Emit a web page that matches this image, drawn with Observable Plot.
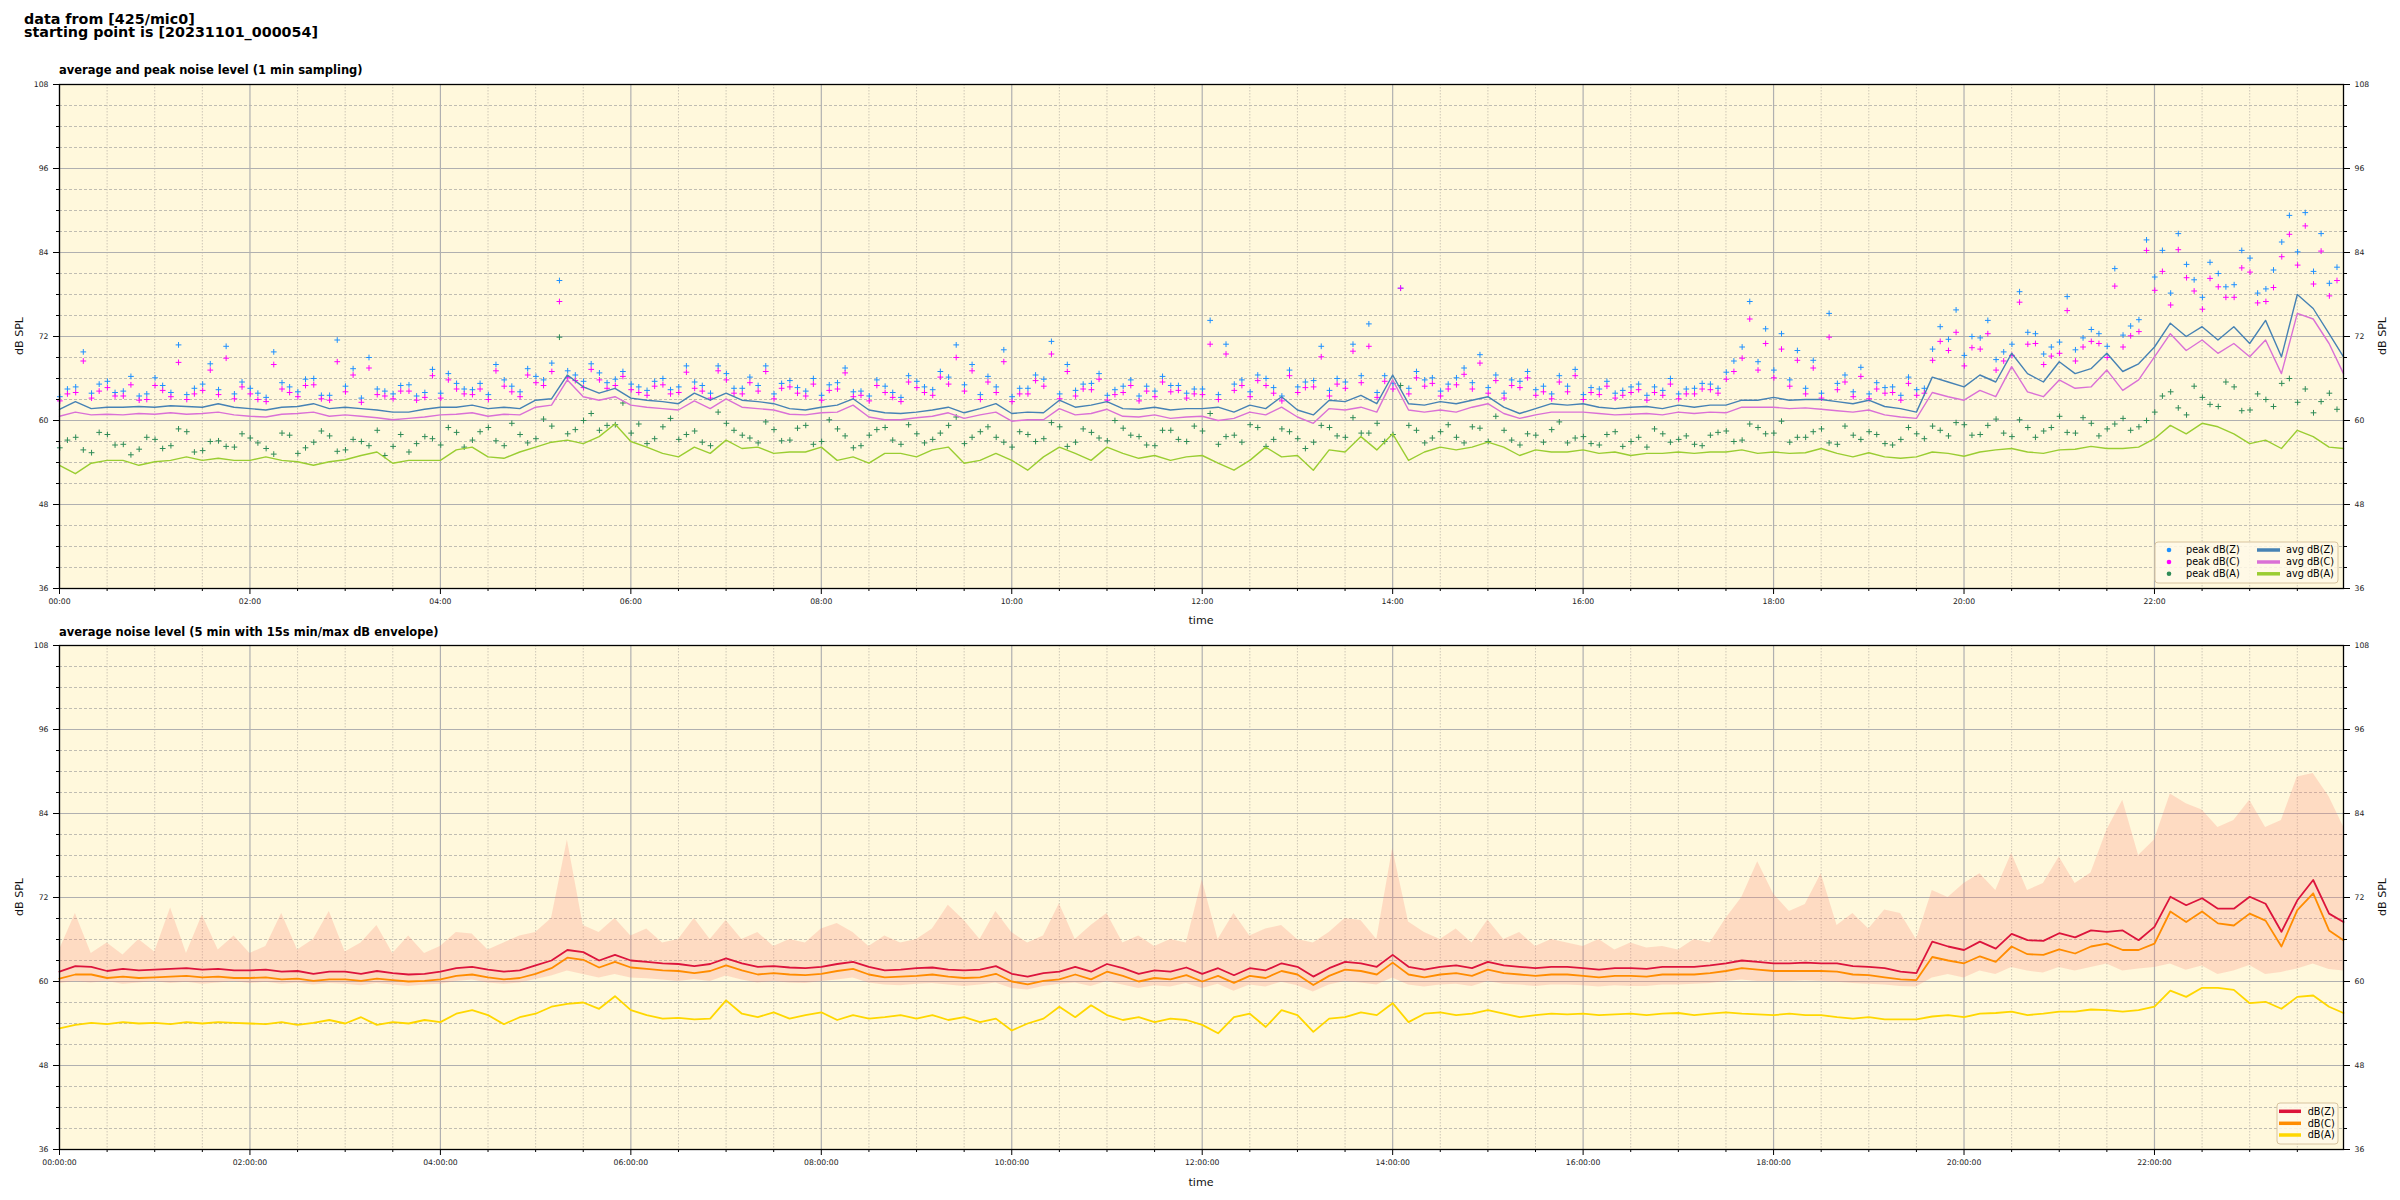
<!DOCTYPE html>
<html><head><meta charset="utf-8">
<script src="https://cdn.jsdelivr.net/npm/d3@7"></script>
<script src="https://cdn.jsdelivr.net/npm/@observablehq/plot@0.6"></script>
<style>
html,body{margin:0;padding:0;background:#fff;}
#root{position:relative;width:2400px;height:1200px;overflow:hidden;font-family:"DejaVu Sans";}
</style></head><body><div id="root"></div>
<script>
// ---------------- DATA (10-minute reading interval) ----------------
const titleLines = ["data from [425/mic0]", "starting point is [20231101_000054]"];
const topTitle = "average and peak noise level (1 min sampling)";
const bottomTitle = "average noise level (5 min with 15s min/max dB envelope)";

const xMajor = [0,2,4,6,8,10,12,14,16,18,20,22];
const xLabelsTop = ["00:00","02:00","04:00","06:00","08:00","10:00","12:00","14:00","16:00","18:00","20:00","22:00"];
const xLabelsBottom = ["00:00:00","02:00:00","04:00:00","06:00:00","08:00:00","10:00:00","12:00:00","14:00:00","16:00:00","18:00:00","20:00:00","22:00:00"];
const xMinor = [0.5,1,1.5,2.5,3,3.5,4.5,5,5.5,6.5,7,7.5,8.5,9,9.5,10.5,11,11.5,12.5,13,13.5,14.5,15,15.5,16.5,17,17.5,18.5,19,19.5,20.5,21,21.5,22.5,23,23.5];
const yMajor = [36,48,60,72,84,96,108];
const yMinor = [39,42,45,51,54,57,63,66,69,75,78,81,87,90,93,99,102,105];

// top panel: 1-min averages (dB SPL), one reading per 10 minutes, 00:00 .. 23:59
const avgZ = [
61.6,62.7,61.7,61.9,61.9,62.0,61.9,62.1,62.0,61.9,62.4,61.9,
61.7,61.5,61.9,62.0,62.4,61.7,61.9,61.7,61.5,61.2,61.2,61.6,
61.9,61.9,62.2,61.7,61.9,61.7,62.9,63.1,66.5,64.8,63.9,64.6,
63.2,62.9,62.7,62.4,63.9,62.9,63.9,62.9,62.7,62.4,61.7,61.5,
61.9,62.2,63.1,61.5,61.1,61.0,61.2,61.5,61.9,61.1,61.7,62.4,
61.0,61.2,61.1,62.9,61.9,62.2,62.7,61.7,61.6,61.9,61.5,61.7,
61.7,61.9,61.2,62.2,61.7,63.4,61.5,60.8,62.9,62.7,63.6,62.4,
66.5,62.4,62.2,62.7,62.4,62.9,63.4,61.9,61.0,61.7,62.4,62.2,
62.4,61.9,61.7,61.9,62.0,61.7,62.2,61.9,62.2,62.2,62.9,62.9,
63.3,62.9,63.0,63.0,62.7,62.4,62.9,62.0,61.7,61.2,66.2,65.5,
64.8,66.5,65.5,69.6,66.7,65.5,68.4,66.7,67.4,69.6,67.0,68.1,
70.5,73.9,72.0,73.4,71.5,73.4,71.0,74.3,69.1,78.0,76.0,72.4,
69.1];
const avgC = [
60.6,61.2,60.8,60.9,60.8,61.0,60.9,61.1,60.9,61.0,61.2,60.8,
60.6,60.5,60.9,61.0,61.2,60.6,60.8,60.6,60.4,60.1,60.3,60.5,
60.8,60.9,61.1,60.6,60.9,60.8,61.9,62.2,65.8,63.4,62.9,63.4,
62.2,61.9,61.7,61.5,62.8,61.7,63.1,61.9,61.7,61.5,60.9,60.8,
61.1,61.2,62.2,60.5,60.1,60.1,60.4,60.6,61.1,60.3,60.8,61.2,
59.9,60.1,60.1,61.7,60.8,61.0,61.6,60.6,60.5,60.8,60.3,60.5,
60.6,60.0,60.3,61.2,60.8,61.9,60.5,59.6,61.7,61.5,61.9,61.2,
65.8,61.5,61.2,61.5,61.2,61.9,62.4,61.0,60.3,60.8,61.2,61.2,
61.2,61.0,60.8,60.9,61.0,60.8,61.2,61.0,61.2,61.1,61.9,61.9,
61.9,61.7,61.8,61.6,61.4,61.2,61.5,60.8,60.5,60.3,64.0,63.4,
62.9,64.3,63.4,67.7,64.1,63.4,65.8,64.6,64.8,67.2,64.3,65.8,
69.1,72.4,70.0,71.5,69.6,71.0,69.1,71.5,66.7,75.3,74.5,71.0,
66.7];
const avgA = [
53.6,52.4,53.9,54.3,54.3,53.6,54.1,54.3,54.8,54.3,54.6,54.3,
54.3,54.8,54.3,54.1,53.6,54.1,54.4,55.0,55.5,53.9,54.3,54.3,
54.3,55.8,56.2,54.8,54.6,55.5,56.2,56.9,57.2,56.7,57.7,59.5,
57.0,56.2,55.3,54.8,56.2,55.3,57.2,56.0,56.2,55.3,55.5,55.5,
56.2,54.3,54.8,53.9,55.3,55.3,54.8,55.8,56.2,53.9,54.3,55.3,
54.3,52.9,54.8,56.2,55.3,54.3,56.2,55.3,54.6,55.0,54.3,54.8,
55.0,53.9,52.9,54.3,56.2,54.8,55.0,52.9,55.8,55.5,57.7,55.8,
58.1,54.3,55.5,56.2,55.8,56.2,56.9,56.2,55.0,55.8,55.5,55.5,
55.8,55.3,55.5,55.0,55.3,55.3,55.5,55.3,55.5,55.5,55.8,55.3,
55.5,55.3,55.4,56.0,55.3,54.8,55.4,54.8,54.6,54.8,55.5,55.3,
54.9,55.5,55.8,56.0,55.5,55.3,55.8,55.9,56.3,56.0,56.0,56.2,
57.4,59.3,58.1,59.6,59.1,58.1,56.7,57.2,56.0,58.6,57.7,56.2,
56.0];

// top panel: 1-min peaks, two readings per 10 minutes (at hh:m0 and hh:m5)
const pkZ = [
64.5,69.8,65.2,64.0,66.3,63.8,65.0,70.8,64.6,68.1,70.6,65.5,
63.9,69.8,64.8,65.9,63.6,71.5,67.4,69.0,64.2,65.0,63.5,67.3,
66.7,64.5,65.3,68.0,64.9,67.4,65.8,80.0,66.5,68.1,65.4,67.0,
64.8,65.6,64.4,67.8,65.0,67.8,64.6,66.2,67.8,65.3,64.7,66.0,
65.1,67.5,64.2,65.8,64.0,66.4,64.8,67.0,70.8,68.0,66.3,70.1,
64.6,66.5,71.3,68.0,65.2,66.7,64.4,65.8,64.9,66.3,65.0,64.5,
74.3,70.9,65.8,66.5,64.7,67.2,65.5,70.6,66.0,70.9,73.8,66.4,
78.9,67.0,66.1,65.2,67.5,69.4,66.5,65.8,67.0,64.9,66.4,67.3,
64.7,65.6,64.3,65.2,64.8,66.0,64.5,65.3,64.6,68.5,77.0,73.1,
72.4,70.0,68.6,75.3,66.5,67.6,65.4,64.8,66.2,64.6,73.4,75.8,
72.0,74.3,69.8,78.4,72.4,70.5,77.7,71.8,72.4,81.7,73.5,85.8,
84.3,86.7,80.1,82.6,79.1,84.3,78.2,81.5,89.3,89.7,86.7,81.9];
const pkC = [
63.8,68.5,64.2,63.5,65.1,63.0,64.3,68.3,63.8,67.2,68.9,64.8,
63.0,68.0,64.0,65.0,63.1,68.4,66.5,67.5,63.5,64.2,62.9,66.4,
65.8,63.8,64.5,67.1,64.1,66.5,65.0,77.0,65.7,67.3,64.6,66.3,
64.0,64.9,63.8,66.9,64.2,67.1,63.9,65.4,67.0,64.6,63.9,65.2,
64.3,66.8,63.6,65.0,63.3,65.5,64.0,66.2,69.0,67.1,65.5,68.4,
63.8,65.7,69.5,67.0,64.5,65.9,63.7,65.0,64.2,65.5,64.3,63.8,
70.9,69.5,65.0,65.7,63.9,66.4,64.7,69.1,65.2,69.9,70.6,65.6,
78.9,66.1,65.3,64.5,66.6,68.2,65.7,65.0,66.1,64.1,65.5,66.4,
64.0,64.9,63.6,64.4,64.0,65.2,63.8,64.5,63.9,67.0,74.5,71.0,
70.2,68.6,67.5,71.9,65.5,66.3,64.5,64.0,65.3,63.9,71.3,72.6,
70.4,72.4,68.5,76.9,71.0,69.2,75.7,70.5,71.0,79.2,72.1,84.3,
81.3,84.4,78.5,80.3,77.6,81.8,76.8,79.0,86.6,87.8,84.2,80.0];
const pkA = [
57.2,55.8,58.3,56.5,55.1,57.6,56.0,58.8,55.5,57.0,56.3,58.1,
56.8,55.2,57.9,56.1,58.5,55.6,57.3,56.4,55.0,58.0,56.7,57.4,
59.0,56.2,58.4,57.1,59.6,56.8,60.2,71.9,58.7,61.0,59.3,62.5,
59.5,57.4,60.3,58.0,56.9,61.2,58.6,57.5,59.8,57.1,58.9,56.6,
60.1,57.8,56.4,58.7,57.2,59.4,56.8,58.2,60.5,57.6,59.1,56.9,
58.4,57.0,59.7,56.3,58.8,57.5,60.0,57.9,56.5,58.6,57.3,59.2,
61.0,57.7,56.9,59.0,57.3,58.4,56.0,59.3,57.8,60.4,58.2,57.0,
65.0,58.6,57.5,59.4,56.8,58.9,60.6,57.2,58.1,56.9,59.8,57.5,
56.7,58.0,56.3,57.6,58.8,56.9,57.8,56.4,58.3,57.0,59.5,58.1,
59.9,57.6,58.4,56.8,59.2,57.3,58.0,56.5,59.0,57.4,58.6,59.7,
57.9,59.3,58.2,60.1,57.6,59.0,58.3,60.4,57.8,59.5,58.6,60.0,
63.5,61.8,64.9,62.3,65.5,61.4,63.8,62.0,66.0,64.5,62.7,61.6];
const pkZ2 = [
63.4,64.8,63.9,65.6,64.2,63.5,66.1,64.0,63.7,65.2,64.4,63.8,
64.6,63.3,65.4,64.1,66.0,63.6,64.9,63.2,64.5,63.8,65.1,64.0,
63.9,65.3,64.4,63.7,65.8,64.1,66.3,68.2,67.1,65.6,66.8,65.9,
65.2,64.3,66.0,64.8,65.5,63.9,66.7,64.6,65.0,63.8,65.7,64.2,
63.6,65.4,64.1,63.5,64.9,63.3,65.6,64.4,66.2,65.1,63.7,64.8,
63.4,64.6,65.9,63.8,64.3,65.3,63.6,64.9,63.5,64.2,65.0,63.9,
64.5,63.7,65.2,64.1,66.0,63.5,64.8,65.7,64.3,65.5,66.4,64.0,
65.3,64.6,65.8,64.2,66.1,65.4,64.7,63.9,65.6,64.4,63.8,64.9,
63.7,64.5,63.9,64.8,63.6,64.3,63.8,64.6,65.2,66.9,70.5,68.4,
67.2,65.8,64.6,63.9,65.3,64.1,63.8,64.7,63.6,64.4,70.2,71.6,
69.3,71.8,68.7,70.9,72.6,69.5,71.2,70.1,73.0,70.6,72.2,74.4,
80.5,78.2,82.3,77.6,81.0,79.4,83.2,78.8,85.5,84.1,81.3,79.6];
const pkC2 = [
62.8,64.0,63.2,64.7,63.5,62.9,65.0,63.4,63.0,64.3,63.7,63.1,
63.8,62.7,64.5,63.4,65.1,62.9,64.1,62.6,63.7,63.1,64.2,63.3,
63.2,64.5,63.7,63.0,64.9,63.4,65.4,67.0,66.1,64.7,65.8,65.0,
64.4,63.6,65.1,64.0,64.6,63.2,65.8,63.8,64.2,63.1,64.8,63.5,
62.9,64.5,63.4,62.8,64.0,62.7,64.7,63.6,65.2,64.2,63.0,64.0,
62.7,63.8,64.9,63.1,63.5,64.4,62.9,64.0,62.8,63.4,64.1,63.2,
63.7,63.0,64.3,63.4,65.0,62.8,64.0,64.8,63.5,64.6,65.4,63.3,
64.5,63.8,64.9,63.5,65.1,64.5,63.9,63.2,64.7,63.6,63.1,64.1,
63.0,63.7,63.2,64.0,62.9,63.6,63.1,63.8,64.4,65.9,68.9,67.2,
66.1,64.9,63.8,63.2,64.4,63.4,63.1,63.9,62.9,63.6,68.6,70.0,
67.8,70.2,67.2,69.3,70.9,68.0,69.6,68.5,71.3,69.0,70.5,72.7,
78.6,76.5,80.4,75.9,79.1,77.6,81.2,77.0,83.4,82.2,79.5,77.8];
const pkA2 = [
56.1,57.6,55.4,58.0,56.6,55.9,57.3,56.4,58.4,55.7,57.1,56.2,
57.5,56.0,58.2,55.3,56.9,57.8,55.8,57.0,58.6,56.3,55.5,57.7,
56.5,58.3,57.2,59.0,56.4,58.0,57.4,59.2,58.1,60.0,58.6,59.4,
58.2,56.7,59.1,57.3,58.5,56.4,59.6,57.9,56.8,58.7,57.2,59.3,
57.0,58.8,56.1,57.9,59.0,56.6,58.1,57.3,59.3,56.7,58.4,57.6,
56.2,58.0,57.4,59.1,56.9,58.3,57.1,58.9,57.7,56.4,58.6,57.0,
58.5,56.6,57.9,59.4,56.3,58.8,57.4,56.9,59.0,57.6,58.2,59.6,
58.0,59.3,56.8,58.4,57.6,59.1,57.0,58.6,56.5,57.9,58.7,56.8,
57.7,56.5,58.4,57.0,56.2,58.1,57.3,56.6,57.9,58.5,57.2,59.0,
58.2,56.9,57.6,58.8,56.6,57.9,58.4,56.7,57.3,58.1,59.2,57.8,
59.4,58.0,60.2,57.7,59.0,58.5,60.6,58.2,59.6,58.8,60.3,59.1,
61.2,64.1,60.8,63.3,62.0,64.8,61.5,63.0,65.3,62.6,61.1,63.9];

// bottom panel: 5-min averages and 15 s min/max envelope, one reading per 10 minutes
const lvlZ = [
61.4,62.2,62.1,61.5,61.8,61.6,61.7,61.8,61.9,61.7,61.8,61.6,
61.6,61.7,61.4,61.5,61.1,61.4,61.4,61.1,61.5,61.2,61.0,61.1,
61.4,61.9,62.1,61.7,61.4,61.6,62.3,63.0,64.5,64.2,63.0,63.8,
63.0,62.8,62.6,62.5,62.2,62.5,63.3,62.6,62.1,62.2,62.0,61.9,
62.1,62.5,62.8,62.1,61.6,61.7,61.9,62.0,61.7,61.6,61.7,62.2,
61.1,60.7,61.2,61.4,62.1,61.4,62.5,61.9,61.1,61.6,61.4,62.0,
61.1,61.9,60.9,61.9,61.6,62.6,62.1,60.7,61.9,62.8,62.6,62.1,
63.8,62.1,61.7,62.1,62.3,61.9,62.8,62.3,62.1,61.9,62.1,62.1,
61.9,61.7,61.9,61.9,61.8,62.1,62.1,62.1,62.3,62.6,63.0,62.8,
62.6,62.6,62.7,62.6,62.6,62.2,62.1,61.9,61.4,61.2,65.7,65.0,
64.5,65.7,64.7,66.8,65.9,65.8,66.9,66.3,67.3,67.1,67.3,65.9,
67.8,72.1,70.9,71.9,70.4,70.4,72.1,71.1,67.1,71.6,74.5,69.7,
68.5];
const lvlC = [
60.4,61.0,61.0,60.5,60.7,60.5,60.6,60.7,60.8,60.6,60.7,60.5,
60.5,60.6,60.3,60.4,60.1,60.3,60.3,60.1,60.4,60.2,60.0,60.1,
60.3,60.8,61.0,60.6,60.3,60.5,61.1,61.9,63.4,63.1,62.0,62.8,
62.0,61.8,61.6,61.5,61.2,61.5,62.3,61.6,61.0,61.2,61.0,60.9,
61.1,61.5,61.8,61.0,60.6,60.7,60.8,61.0,60.7,60.5,60.6,61.1,
60.0,59.6,60.1,60.3,61.0,60.3,61.4,60.8,60.0,60.5,60.3,60.9,
60.0,60.8,59.8,60.8,60.5,61.5,61.0,59.5,60.8,61.7,61.5,61.0,
62.7,61.0,60.6,61.0,61.2,60.8,61.7,61.2,61.0,60.8,61.0,61.0,
60.8,60.6,60.8,60.8,60.7,61.0,61.0,61.0,61.2,61.5,61.9,61.7,
61.5,61.5,61.5,61.5,61.4,61.0,60.9,60.6,60.3,60.2,63.5,63.0,
62.6,63.6,62.8,65.0,63.9,63.8,64.6,64.0,65.0,65.4,64.5,64.5,
65.4,70.0,68.5,70.0,68.3,68.0,69.7,68.7,65.0,70.2,72.6,67.3,
65.9];
const lvlA = [
53.3,53.8,54.1,53.9,54.2,54.0,54.1,53.9,54.2,54.0,54.2,54.1,
54.0,53.9,54.2,53.8,54.1,54.5,54.0,54.9,53.8,54.2,54.0,54.5,
54.2,55.4,55.9,55.2,53.9,54.9,55.4,56.4,56.8,57.0,56.1,57.9,
55.9,55.2,54.7,54.8,54.6,54.7,57.3,55.4,54.9,55.6,54.7,55.2,
55.6,54.5,55.2,54.7,54.9,55.2,54.7,55.2,54.5,54.9,54.2,54.7,
53.0,54.0,54.7,56.4,54.9,56.6,55.2,54.5,54.9,54.2,54.7,54.5,
53.8,52.6,54.9,55.4,53.5,55.9,55.2,52.8,54.7,54.9,55.6,55.2,
56.9,54.2,55.4,55.6,55.2,55.4,55.9,55.4,54.9,55.2,55.4,55.3,
55.4,55.2,55.3,55.4,55.2,55.4,55.5,55.2,55.4,55.6,55.4,55.3,
55.2,55.4,55.2,55.2,54.9,54.7,54.9,54.6,54.6,54.6,55.0,55.2,
54.9,55.4,55.5,55.7,55.2,55.4,55.7,55.7,56.0,55.9,55.7,55.9,
56.4,58.7,57.8,59.1,59.1,58.8,56.9,57.1,56.1,57.8,58.0,56.4,
55.5];
const envLow = [
59.7,60.0,59.8,60.0,59.6,59.8,60.0,59.7,59.9,59.6,59.8,60.0,
59.7,59.9,59.6,59.8,59.5,59.7,59.6,59.4,59.7,59.5,59.3,59.5,
59.6,60.0,60.2,59.8,59.6,59.8,60.3,60.8,61.5,61.0,60.5,61.0,
60.5,60.4,60.2,60.0,60.3,60.0,60.8,60.2,59.8,60.0,59.8,59.7,
60.0,60.2,60.5,59.8,59.5,59.4,59.6,59.7,59.5,59.3,59.5,59.8,
59.0,58.8,59.3,59.6,59.8,59.3,60.0,59.5,59.0,59.4,59.2,59.7,
59.0,59.6,58.6,59.5,59.2,59.9,59.4,58.5,59.5,60.0,59.8,59.5,
60.5,59.5,59.2,59.5,59.6,59.3,60.0,59.6,59.5,59.3,59.5,59.5,
59.4,59.2,59.4,59.3,59.3,59.5,59.5,59.6,59.7,60.0,60.2,60.0,
60.0,60.0,60.1,60.0,59.9,59.7,59.6,59.5,59.3,59.2,60.5,61.0,
60.5,61.5,61.0,62.0,61.5,61.2,62.0,61.5,62.0,62.5,61.5,61.8,
62.0,62.5,61.6,62.2,61.0,61.5,62.3,61.0,61.3,61.8,62.5,61.7,
61.5];
const envHigh = [
64.5,69.7,64.0,65.5,63.8,66.0,64.2,70.5,64.0,69.5,64.5,66.5,
64.0,65.0,69.7,64.5,66.0,70.0,64.2,65.5,68.0,64.0,66.5,64.0,
65.0,67.0,66.8,64.5,65.5,66.5,67.0,69.0,80.2,68.0,67.0,69.0,
66.5,67.5,65.5,66.0,69.0,66.0,68.7,66.0,67.0,65.0,66.0,65.5,
67.5,68.3,67.0,65.0,66.5,65.5,66.0,67.5,70.9,68.7,66.0,70.0,
67.0,65.5,66.5,71.1,66.0,68.0,69.7,65.5,66.5,65.0,66.0,65.5,
74.5,66.0,69.7,66.5,67.5,68.0,66.0,65.5,67.0,69.0,68.7,66.0,
79.0,68.5,67.0,66.0,67.5,65.5,68.8,66.0,67.0,65.0,66.0,65.5,
65.0,66.0,64.5,65.5,64.8,65.0,64.5,66.0,65.5,69.0,72.0,77.1,
72.5,70.0,71.0,75.4,68.0,69.7,67.5,70.2,69.7,66.0,73.0,72.0,
74.0,75.4,73.0,78.3,73.0,74.0,77.8,74.0,75.5,81.6,85.9,78.0,
80.2,86.8,85.4,84.5,82.0,83.0,85.9,82.0,83.0,89.2,89.7,86.4,
82.1];

// ---------------- BUILD ----------------
const FONT = "DejaVu Sans";
const BG = "#FFF8DC";
const STEP_H = 1/6;          // 10 minutes between readings
const T_END = 23.985;        // last sample 23:59
const tAt = i => (i < 144 ? i * STEP_H : T_END);

const topRows = avgZ.map((z, i) => ({t: tAt(i), z, c: avgC[i], a: avgA[i]}));
const peakRows = pkZ.map((z, i) => ({t: (i + 0.5) * STEP_H, z, c: pkC[i], a: pkA[i]}))
  .concat(pkZ2.map((z, i) => ({t: (i + 0.02) * STEP_H, z, c: pkC2[i], a: pkA2[i]})));
const botRows = lvlZ.map((z, i) => ({t: tAt(i), z, c: lvlC[i], a: lvlA[i], lo: envLow[i], hi: envHigh[i]}));

function panel(height, marginTop, marginBottom, xLabels, dataMarks) {
  const tickCol = "#000";
  return Plot.plot({
    width: 2400, height, marginLeft: 59, marginRight: 57, marginTop, marginBottom,
    x: {domain: [0, T_END]},
    y: {domain: [36, 108]},
    style: {background: "transparent", fontFamily: FONT, fontSize: "7.7px", color: "#000", overflow: "visible"},
    marks: [
      Plot.frame({fill: BG, stroke: null}),
      Plot.gridX(xMinor, {stroke: "#c8c2b2", strokeOpacity: 1, strokeWidth: 0.9, strokeDasharray: "1.5,1.5"}),
      Plot.gridY(yMinor, {stroke: "#b9b6ad", strokeOpacity: 1, strokeWidth: 0.9, strokeDasharray: "3,2"}),
      Plot.gridX(xMajor, {stroke: "#b0b0b0", strokeOpacity: 1, strokeWidth: 1.2}),
      Plot.gridY(yMajor, {stroke: "#b0b0b0", strokeOpacity: 1, strokeWidth: 1.2}),
      ...dataMarks,
      Plot.axisX(xMajor, {anchor: "bottom", tickSize: 6, tickPadding: 4, tickFormat: d => xLabels[xMajor.indexOf(d)], label: null, stroke: tickCol, fill: "#222"}),
      Plot.axisX(xMinor, {anchor: "bottom", tickSize: 3, tickFormat: () => "", label: null, stroke: tickCol}),
      Plot.axisY(yMajor, {anchor: "left", tickSize: 6, tickPadding: 5, label: null, stroke: tickCol, fill: "#222"}),
      Plot.axisY(yMinor, {anchor: "left", tickSize: 3, tickFormat: () => "", label: null, stroke: tickCol}),
      Plot.axisY(yMajor, {anchor: "right", tickSize: 6, tickPadding: 5, label: null, stroke: tickCol, fill: "#222"}),
      Plot.axisY(yMinor, {anchor: "right", tickSize: 3, tickFormat: () => "", label: null, stroke: tickCol}),
      Plot.frame({stroke: "#000", strokeWidth: 1.3})
    ]
  });
}

const topPlot = panel(600, 24, 72, xLabelsTop, [
  Plot.dot(peakRows, {x: "t", y: "z", symbol: "plus", r: 2, stroke: "#1E90FF", strokeWidth: 1}),
  Plot.dot(peakRows, {x: "t", y: "c", symbol: "plus", r: 2, stroke: "#FF00FF", strokeWidth: 1}),
  Plot.dot(peakRows, {x: "t", y: "a", symbol: "plus", r: 2, stroke: "#2E8B57", strokeWidth: 1}),
  Plot.line(topRows, {x: "t", y: "z", stroke: "#4682B4", strokeWidth: 1.4}),
  Plot.line(topRows, {x: "t", y: "c", stroke: "#DA70D6", strokeWidth: 1.4}),
  Plot.line(topRows, {x: "t", y: "a", stroke: "#9ACD32", strokeWidth: 1.4})
]);
const botPlot = panel(575, 20, 51, xLabelsBottom, [
  Plot.areaY(botRows, {x: "t", y1: "lo", y2: "hi", fill: "#FA8072", fillOpacity: 0.24}),
  Plot.line(botRows, {x: "t", y: "z", stroke: "#DC143C", strokeWidth: 1.8}),
  Plot.line(botRows, {x: "t", y: "c", stroke: "#FF8C00", strokeWidth: 1.8}),
  Plot.line(botRows, {x: "t", y: "a", stroke: "#FFD700", strokeWidth: 1.8})
]);

const root = document.getElementById("root");
for (const [svg, top] of [[topPlot, 60], [botPlot, 625]]) {
  svg.style.position = "absolute";
  svg.style.left = "0px";
  svg.style.top = top + "px";
  root.appendChild(svg);
}

// ---------------- TEXT & LEGENDS OVERLAY ----------------
const ov = d3.select(root).append("svg")
  .attr("width", 2400).attr("height", 1200)
  .style("position", "absolute").style("left", "0px").style("top", "0px")
  .style("font-family", FONT);

ov.append("text").attr("x", 24).attr("y", 23.5).attr("font-size", 14.3).attr("font-weight", "bold").text(titleLines[0]);
ov.append("text").attr("x", 24).attr("y", 37).attr("font-size", 14.3).attr("font-weight", "bold").text(titleLines[1]);
ov.append("text").attr("x", 59).attr("y", 74).attr("font-size", 11.5).attr("font-weight", "bold").text(topTitle);
ov.append("text").attr("x", 59).attr("y", 636).attr("font-size", 11.5).attr("font-weight", "bold").text(bottomTitle);

function axisLabels(yTop, yBottom, timeBaseline) {
  const cy = (yTop + yBottom) / 2;
  ov.append("text").attr("x", 1201).attr("y", timeBaseline).attr("font-size", 11.1).attr("text-anchor", "middle").attr("fill", "#111").text("time");
  ov.append("text").attr("transform", `translate(22.5,${cy}) rotate(-90)`).attr("font-size", 11.1).attr("text-anchor", "middle").attr("fill", "#111").text("dB SPL");
  ov.append("text").attr("transform", `translate(2385.5,${cy}) rotate(-90)`).attr("font-size", 11.1).attr("text-anchor", "middle").attr("fill", "#111").text("dB SPL");
}
axisLabels(84, 588, 624);
axisLabels(645, 1149, 1185.5);

// top legend
const lg1 = ov.append("g");
lg1.append("rect").attr("x", 2155).attr("y", 542).attr("width", 183).attr("height", 41).attr("rx", 3)
  .attr("fill", "#FFF9E8").attr("fill-opacity", 0.85).attr("stroke", "#D8C49F").attr("stroke-width", 1);
const peakLegend = [["peak dB(Z)", "#1E90FF"], ["peak dB(C)", "#FF00FF"], ["peak dB(A)", "#2E8B57"]];
const avgLegend = [["avg dB(Z)", "#4682B4"], ["avg dB(C)", "#DA70D6"], ["avg dB(A)", "#9ACD32"]];
const rows1 = [550, 562, 573.8];
peakLegend.forEach(([name, col], i) => {
  lg1.append("circle").attr("cx", 2169).attr("cy", rows1[i]).attr("r", 2.3).attr("fill", col);
  lg1.append("text").attr("x", 2186).attr("y", rows1[i] + 3.4).attr("font-size", 9.7).text(name);
});
avgLegend.forEach(([name, col], i) => {
  lg1.append("line").attr("x1", 2257).attr("x2", 2280).attr("y1", rows1[i]).attr("y2", rows1[i]).attr("stroke", col).attr("stroke-width", 3.5);
  lg1.append("text").attr("x", 2286).attr("y", rows1[i] + 3.4).attr("font-size", 9.7).text(name);
});

// bottom legend
const lg2 = ov.append("g");
lg2.append("rect").attr("x", 2277).attr("y", 1103).attr("width", 61).attr("height", 41).attr("rx", 3)
  .attr("fill", "#FFF9E8").attr("fill-opacity", 0.85).attr("stroke", "#D8C49F").attr("stroke-width", 1);
const lvlLegend = [["dB(Z)", "#DC143C"], ["dB(C)", "#FF8C00"], ["dB(A)", "#FFD700"]];
const rows2 = [1111.3, 1123.3, 1135];
lvlLegend.forEach(([name, col], i) => {
  lg2.append("line").attr("x1", 2279).attr("x2", 2301).attr("y1", rows2[i]).attr("y2", rows2[i]).attr("stroke", col).attr("stroke-width", 3.5);
  lg2.append("text").attr("x", 2307.7).attr("y", rows2[i] + 3.4).attr("font-size", 9.7).text(name);
});
</script></body></html>
